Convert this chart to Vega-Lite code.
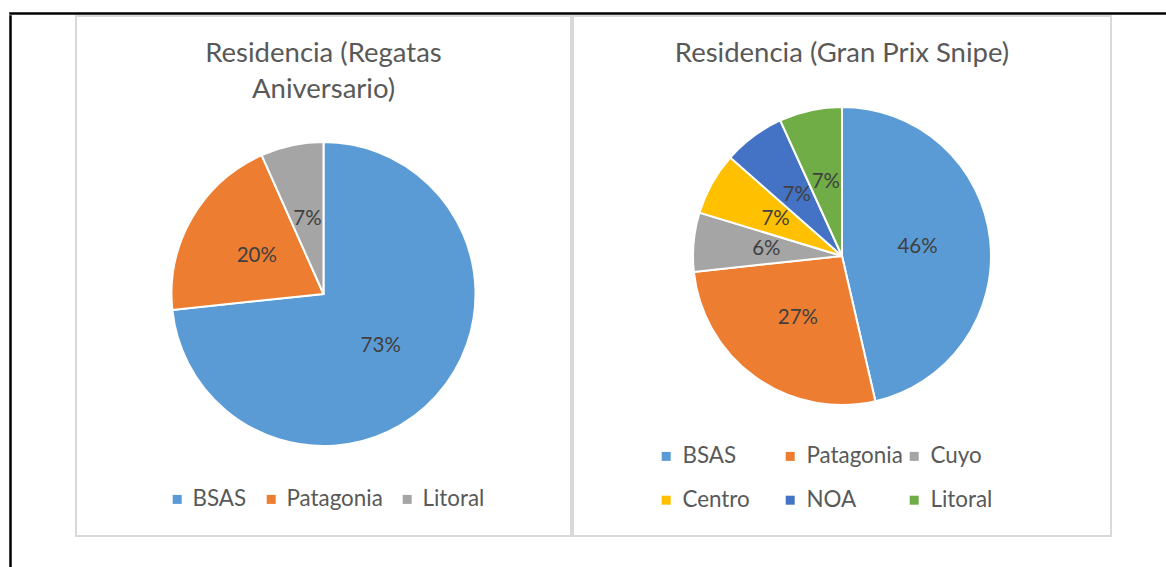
{
  "$schema": "https://vega.github.io/schema/vega-lite/v6.json",
  "background": "white",
  "padding": {"left": 9, "top": 12, "right": 0, "bottom": 0},
  "config": {
    "view": {"stroke": null},
    "font": "Lato"
  },
  "spacing": 0,
  "resolve": {"scale": {"color": "independent"}, "legend": {"color": "independent"}},
  "vconcat": [
    {
      "width": 1200, "height": 1,
      "data": {"values": []},
      "mark": "point",
      "view": {"stroke": "black", "strokeWidth": 1.5}
    },
    {
      "spacing": 63,
      "resolve": {"scale": {"color": "independent"}, "legend": {"color": "independent"}},
      "hconcat": [
        {
          "width": 1, "height": 600,
          "data": {"values": []},
          "mark": "point",
          "view": {"stroke": "black", "strokeWidth": 1.5}
        },
        {
          "spacing": 0,
          "resolve": {"scale": {"color": "independent"}, "legend": {"color": "independent"}},
          "hconcat": [
            {
              "width": 495, "height": 520,
              "view": {"stroke": "#d9d9d9", "strokeWidth": 2},
              "title": {"text": ["Residencia (Regatas", "Aniversario)"], "offset": -87, "fontSize": 27.5, "font": "Lato", "fontWeight": "normal", "color": "#595959", "lineHeight": 36, "anchor": "middle", "frame": "group"},
              "data": {"values": [
                {"region": "BSAS", "share": 0.7333, "idx": 1},
                {"region": "Patagonia", "share": 0.2, "idx": 2},
                {"region": "Litoral", "share": 0.0667, "idx": 3}
              ]},
              "encoding": {
                "theta": {"field": "share", "type": "quantitative", "stack": true},
                "order": {"field": "idx", "type": "quantitative"},
                "color": {
                  "field": "region", "type": "nominal",
                  "scale": {"domain": ["BSAS", "Patagonia", "Litoral"], "range": ["#5B9BD5", "#ED7D31", "#A5A5A5"]},
                  "legend": {"orient": "none", "legendX": 90, "legendY": 472, "direction": "horizontal", "title": null, "symbolType": "square", "symbolSize": 81, "symbolStrokeWidth": 0, "labelFontSize": 22.4, "labelFont": "Lato", "labelColor": "#595959", "columnPadding": 13, "labelOffset": 4, "padding": 0}
                }
              },
              "layer": [
                {"mark": {"type": "arc", "outerRadius": 152, "stroke": "white", "strokeWidth": 2, "yOffset": 18}},
                {"mark": {"type": "text", "radius": 77, "yOffset": 18, "fontSize": 20.5, "font": "Lato"},
                 "encoding": {"text": {"field": "share", "type": "quantitative", "format": ".0%"}, "color": {"value": "#404040"}}}
              ]
            },
            {
              "width": 538, "height": 520,
              "view": {"stroke": "#d9d9d9", "strokeWidth": 2},
              "title": {"text": "Residencia (Gran Prix Snipe)", "offset": -51, "fontSize": 27.5, "font": "Lato", "fontWeight": "normal", "color": "#595959", "anchor": "middle", "frame": "group"},
              "data": {"values": [
                {"region": "BSAS", "share": 0.464, "idx": 1},
                {"region": "Patagonia", "share": 0.269, "idx": 2},
                {"region": "Cuyo", "share": 0.064, "idx": 3},
                {"region": "Centro", "share": 0.068, "idx": 4},
                {"region": "NOA", "share": 0.067, "idx": 5},
                {"region": "Litoral", "share": 0.068, "idx": 6}
              ]},
              "encoding": {
                "theta": {"field": "share", "type": "quantitative", "stack": true},
                "order": {"field": "idx", "type": "quantitative"},
                "color": {
                  "field": "region", "type": "nominal",
                  "sort": ["BSAS", "Patagonia", "Cuyo", "Centro", "NOA", "Litoral"],
                  "scale": {"domain": ["BSAS", "Patagonia", "Cuyo", "Centro", "NOA", "Litoral"], "range": ["#5B9BD5", "#ED7D31", "#A5A5A5", "#FFC000", "#4472C4", "#70AD47"]},
                  "legend": {"orient": "none", "legendX": 82, "legendY": 429, "direction": "horizontal", "columns": 3, "gridAlign": "all", "title": null, "symbolType": "square", "symbolSize": 81, "symbolStrokeWidth": 0, "labelFontSize": 22.4, "labelFont": "Lato", "labelColor": "#595959", "columnPadding": -4, "rowPadding": 21, "labelOffset": 5, "padding": 0}
                }
              },
              "layer": [
                {"mark": {"type": "arc", "outerRadius": 149, "stroke": "white", "strokeWidth": 2, "yOffset": -20}},
                {"mark": {"type": "text", "radius": 76, "yOffset": -20, "fontSize": 20.5, "font": "Lato"},
                 "encoding": {"text": {"field": "share", "type": "quantitative", "format": ".0%"}, "color": {"value": "#404040"}}}
              ]
            }
          ]
        }
      ]
    }
  ]
}
